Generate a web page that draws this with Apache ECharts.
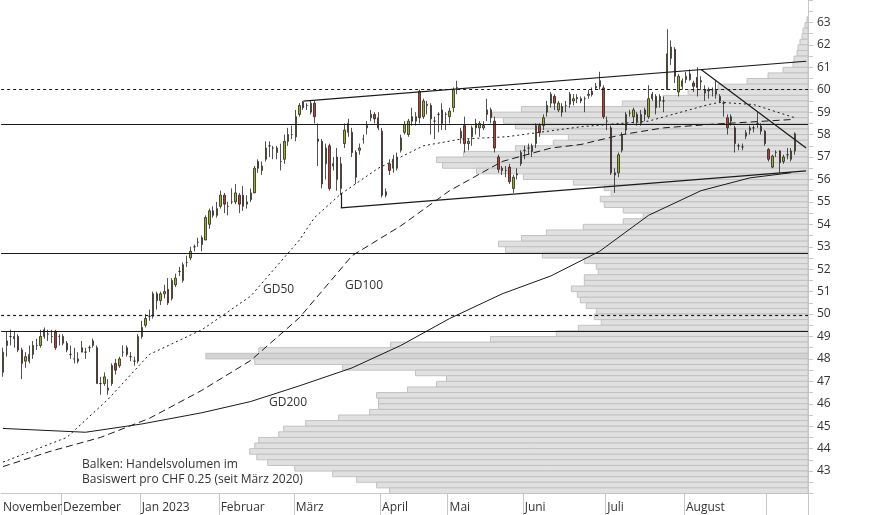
<!DOCTYPE html>
<html>
<head>
<meta charset="utf-8">
<script src="https://cdn.jsdelivr.net/npm/echarts@6/dist/echarts.min.js"></script>
<style>html,body{margin:0;padding:0;background:#fff}#main{width:874px;height:515px}</style>
</head>
<body>
<div id="main"></div>
<script>
// daily candles [open, close, low, high]
var candles = [
[47.4,48.3,47.2,48.5],[48.6,48.8,48.1,49.2],[49.0,49.0,48.6,49.3],[48.9,49.0,48.5,49.2],[49.0,48.4,48.3,49.1],
[48.4,47.8,47.1,48.5],[47.9,48.1,47.6,48.3],[47.9,48.2,47.8,48.6],[48.2,48.6,48.0,48.8],[48.6,48.6,48.4,48.9],
[48.6,49.0,48.5,49.3],[49.0,49.3,48.9,49.4],[49.1,49.1,48.8,49.3],[49.0,49.0,48.7,49.3],[49.2,48.5,48.4,49.3],
[49.0,49.0,48.6,49.1],[48.7,49.0,48.6,49.1],[48.7,48.4,48.3,48.8],[48.2,48.2,48.0,48.6],[48.0,48.0,47.8,48.5],
[47.9,48.0,47.8,48.3],[48.3,48.5,48.3,48.8],[48.3,48.3,48.0,48.5],[48.5,48.5,48.3,48.6],[48.6,48.8,48.5,48.9],
[48.5,46.9,46.9,48.6],[46.9,46.9,46.4,47.2],[46.9,47.2,46.8,47.4],[46.6,46.7,46.4,47.1],[46.9,47.7,46.8,47.8],
[47.8,47.5,47.3,48.0],[47.7,48.0,47.6,48.1],[48.3,48.3,48.1,48.6],[48.5,48.2,48.1,48.6],[48.1,48.1,47.9,48.3],
[47.9,47.9,47.7,48.1],[47.9,49.0,47.8,49.1],[49.0,49.4,48.9,49.7],[49.5,49.8,49.4,50.0],[49.9,49.9,49.7,50.2],
[49.9,50.9,49.8,51.0],[50.9,50.6,50.2,51.0],[50.6,50.9,50.4,51.0],[50.9,51.0,50.7,51.3],[51.1,50.5,50.4,51.6],
[50.7,51.5,50.6,51.6],[51.3,51.6,51.2,51.8],[51.9,51.9,51.7,52.1],[51.5,52.2,51.4,52.3],[52.3,52.3,52.1,52.6],
[52.5,52.8,52.4,53.0],[53.0,53.0,52.8,53.1],[53.2,53.2,53.0,53.4],[53.1,53.4,52.8,53.5],[53.3,54.3,53.3,54.4],
[54.0,54.6,53.8,54.7],[54.6,54.4,54.3,54.8],[54.4,54.7,54.3,55.0],[54.8,55.3,54.7,55.5],[55.3,54.9,54.5,55.4],
[54.8,54.8,54.4,55.0],[55.0,55.0,54.9,55.6],[55.0,55.4,54.9,55.8],[55.3,54.9,54.5,55.4],[55.3,54.8,54.6,55.7],
[54.9,55.0,54.7,55.3],[55.1,55.4,55.0,55.6],[55.4,56.5,55.4,56.6],[56.8,56.5,56.3,56.9],[56.4,56.6,56.2,56.8],
[56.9,57.4,56.8,57.7],[57.5,57.5,57.0,57.7],[57.4,57.4,56.9,57.5],[57.2,57.4,56.9,57.5],[56.8,56.8,56.4,57.6],
[56.9,57.7,56.7,58.0],[57.7,58.0,57.5,58.3],[58.0,58.0,57.8,58.4],[57.9,58.8,57.7,59.1],[58.9,59.3,58.8,59.4],
[59.45,59.2,59.1,59.5],[59.3,59.3,59.1,59.4],[59.0,59.4,58.9,59.5],[59.4,58.8,58.5,59.5],[57.8,57.7,56.6,58.5],
[57.7,55.8,55.6,57.8],[56.7,57.4,56.0,57.6],[57.5,55.6,55.5,57.6],[56.6,56.7,56.4,57.0],[57.0,56.0,55.5,57.4],
[55.6,56.7,55.3,57.0],[57.6,58.2,57.4,58.5],[58.1,58.5,57.9,58.7],[58.1,57.2,57.0,58.3],[57.2,56.1,55.8,57.3],
[57.3,57.4,57.1,57.6],[57.8,57.8,57.6,58.0],[58.3,58.4,58.0,58.6],[58.75,58.9,58.6,59.1],[58.9,58.7,58.5,59.0],
[58.75,58.3,58.2,59.0],[58.15,55.3,55.2,58.3],[55.3,55.45,55.2,55.6],[56.7,56.4,56.2,56.9],[56.5,56.9,56.3,57.1],
[56.5,57.0,56.4,57.2],[57.3,57.85,57.2,58.0],[58.1,58.45,58.0,58.6],[58.0,58.6,57.9,58.7],[58.8,58.6,58.4,59.2],
[58.6,58.8,58.4,59.0],[59.93,58.75,58.5,60.0],[58.8,59.5,58.7,59.6],[59.35,59.3,58.9,59.5],[59.3,58.7,58.0,59.4],
[58.6,58.6,57.8,58.8],[58.9,58.9,58.1,59.0],[59.1,58.5,58.2,59.4],[58.9,58.9,58.2,59.0],[58.8,59.05,58.5,59.2],
[59.2,60.0,59.0,60.1],[60.1,60.1,59.8,60.4],[57.85,58.15,57.6,58.3],[58.4,57.6,57.2,58.8],[57.6,57.7,57.3,57.8],
[57.9,58.3,57.5,58.4],[58.5,58.3,58.0,58.7],[58.3,58.5,57.9,58.6],[58.3,58.4,58.2,58.6],[58.9,59.1,58.6,59.6],
[59.1,58.75,58.5,59.2],[58.6,57.4,57.2,58.8],[57.0,56.45,56.3,57.1],[56.5,56.4,56.2,56.6],[56.4,56.4,56.1,56.6],
[56.55,55.9,55.8,56.7],[55.6,56.1,55.4,56.2],[56.2,56.25,56.0,56.5],[56.7,57.2,56.6,57.3],[57.3,57.3,56.9,57.5],
[57.4,57.4,57.1,57.6],[57.25,57.5,57.0,57.6],[57.6,58.4,57.4,58.5],[58.4,58.1,57.9,58.5],[58.4,58.75,58.2,58.9],
[59.0,59.3,58.8,59.5],[59.4,59.8,59.2,59.9],[59.7,59.4,59.1,59.8],[59.1,59.4,59.0,59.5],[59.25,59.0,58.8,59.4],
[59.3,59.3,59.0,59.5],[59.35,59.8,59.2,59.9],[59.5,59.6,59.3,59.8],[59.65,59.6,59.4,59.8],[59.6,59.5,59.4,59.7],
[59.6,59.6,59.0,59.7],[59.75,59.8,59.6,60.0],[59.93,59.78,59.7,60.1],[60.08,60.15,60.0,60.3],[60.4,60.15,60.0,60.8],
[60.08,58.8,58.7,60.2],[58.6,58.6,58.2,58.8],[58.3,56.3,56.2,58.4],[56.2,56.3,55.4,56.5],[56.3,57.1,56.1,57.2],
[57.3,58.0,57.2,58.1],[58.2,58.9,58.0,59.0],[58.95,58.95,58.8,59.1],[58.8,59.1,58.5,59.2],[58.9,58.6,58.4,59.0],
[58.5,58.9,58.4,59.1],[59.1,58.9,58.6,59.2],[58.8,59.6,58.7,60.2],[59.6,59.8,59.5,59.9],[59.7,59.2,58.9,59.8],
[59.5,59.7,59.2,59.8],[59.5,59.5,59.0,59.7],[60.0,61.6,60.0,62.7],[61.4,61.9,61.1,62.2],[61.8,60.6,60.3,61.9],
[59.9,60.6,59.7,60.7],[60.15,60.4,60.0,60.5],[60.45,60.6,60.3,60.8],[60.45,60.7,60.4,60.9],[60.3,60.15,59.9,60.4],
[60.55,60.1,59.7,61.0],[60.4,60.35,60.0,60.6],[60.0,59.85,59.5,60.2],[60.0,59.95,59.6,60.1],[60.0,60.0,59.7,60.1],
[59.8,59.96,59.6,60.4],[59.7,59.5,59.4,59.8],[59.4,59.4,58.8,59.5],[58.75,58.3,58.0,58.9],[58.6,58.8,58.4,58.9],
[58.3,57.6,57.2,58.4],[57.5,57.5,57.3,57.6],[57.45,57.45,57.3,57.6],[57.93,58.08,57.8,58.2],[58.2,58.3,58.0,58.4],
[58.3,58.3,58.1,58.4],[58.5,58.5,58.3,59.0],[58.38,58.15,58.0,58.5],[58.15,57.6,57.5,58.2],[57.34,56.9,56.8,57.4],
[56.55,57.04,56.5,57.1],[57.2,57.2,57.0,57.3],[57.27,56.75,56.3,57.3],[56.8,57.0,56.7,57.1],[57.1,57.1,56.9,57.4],
[56.9,57.27,56.8,57.4],[57.27,58.04,57.1,58.1]
];

// moving averages, sampled points [day index, value]
var gd50 = [[0,43.4],[17,44.5],[28,46.2],[39,48.2],[53,49.3],[66,50.8],[79,53.3],[83,54.3],[90,55.35],[100,56.5],
  [112,57.5],[122,57.8],[134,57.9],[143,58.1],[154,58.35],[172,58.6],[180,58.97],[188,59.34],[191,59.44],[200,59.34],[211,58.75]];
var gd100 = [[0,43.2],[13,43.9],[26,44.5],[39,45.35],[53,46.6],[66,47.93],[79,49.84],[93,52.6],[106,53.93],[119,55.5],
  [133,56.8],[146,57.4],[154,57.56],[165,58.0],[176,58.3],[188,58.45],[210,58.67]];
var gd200 = [[0,44.9],[22,44.73],[37,45.1],[53,45.6],[66,46.1],[79,46.8],[93,47.6],[106,48.6],[119,49.8],[133,50.9],
  [146,51.7],[159,52.8],[172,54.4],[186,55.5],[199,56.07],[210,56.3]];

// volume profile: price bin centre (step 0.25) and volume
var profilePrice = [63.125,62.875,62.625,62.375,62.125,61.875,61.625,61.375,61.125,60.875,60.625,60.375,60.125,59.875,
  59.625,59.375,59.125,58.875,58.625,58.375,58.125,57.875,57.625,57.375,57.125,56.875,56.625,56.375,56.125,55.875,
  55.625,55.375,55.125,54.875,54.625,54.375,54.125,53.875,53.625,53.375,53.125,52.875,52.625,52.375,52.125,51.875,
  51.625,51.375,51.125,50.875,50.625,50.375,50.125,49.875,49.625,49.375,49.125,48.875,48.625,48.375,48.125,47.875,
  47.625,47.375,47.125,46.875,46.625,46.375,46.125,45.875,45.625,45.375,45.125,44.875,44.625,44.375,44.125,43.875,
  43.625,43.375,43.125,42.875,42.625,42.375,42.125];
var profileVol = [1,3,5,6,8,10,11,14,15,25,40,61,90,120,145,186,287,316,305,293,268,240,255,293,345,372,366,332,285,235,
  204,197,208,204,185,165,185,225,262,287,310,303,266,224,212,210,224,224,237,231,228,222,212,214,207,230,252,318,418,
  550,603,554,466,393,362,372,401,432,430,430,439,470,503,525,530,550,554,559,552,541,514,476,452,432,419];
var currentBin = 48.125;

var levelsSolid = [58.45, 52.7, 49.22];
var levelsDashed = [60.0, 49.93];
var trendLines = [
  [[80,59.49],[214,61.27]],
  [[90,54.73],[214,56.38]],
  [[90,54.73],[90,55.4]],
  [[186,60.9],[214,57.4]]
];

var monthNames = {10:'November',11:'Dezember',0:'Jan 2023',1:'Februar',2:'März',3:'April',4:'Mai',5:'Juni',6:'Juli',7:'August',8:''};
var holidays = ['2022-12-26','2023-01-02','2023-04-07','2023-04-10','2023-05-01','2023-05-18','2023-05-29','2023-08-01'];
var dayCount = 215;

// trading days
var dates = [];
var d = new Date(Date.UTC(2022, 10, 9));
while (dates.length < dayCount) {
  var s = d.toISOString().slice(0, 10);
  var wd = d.getUTCDay();
  if (wd !== 0 && wd !== 6 && holidays.indexOf(s) < 0) dates.push(s);
  d.setUTCDate(d.getUTCDate() + 1);
}
var monthStart = {};
for (var i = 0; i < dates.length; i++) {
  if (i === 0 || dates[i].slice(5, 7) !== dates[i - 1].slice(5, 7)) monthStart[i] = true;
}

var font = '"Open Sans", "DejaVu Sans", sans-serif';
var chart = echarts.init(document.getElementById('main'));

var lineData = [];
levelsSolid.forEach(function (v) { lineData.push({yAxis: v, lineStyle: {type: 'solid', width: 1.2, color: '#1a1a1a'}}); });
levelsDashed.forEach(function (v) { lineData.push({yAxis: v, lineStyle: {type: [3, 3], width: 1.2, color: '#1a1a1a'}}); });
trendLines.forEach(function (t) {
  lineData.push([{coord: t[0], lineStyle: {type: 'solid', width: 1.2, color: '#1a1a1a'}}, {coord: t[1]}]);
});

function maSeries(data, dash) {
  return {
    type: 'line', data: data, symbol: 'none', silent: true, z: 3,
    lineStyle: {color: '#1a1a1a', width: 1, type: dash}
  };
}

var profileData = profilePrice.map(function (p, k) { return [p, profileVol[k]]; });

var option = {
  animation: false,
  grid: [{left: 0, right: 66, top: -1.5, bottom: 21.5}],
  xAxis: [{
    type: 'category', data: dates, boundaryGap: true,
    axisLine: {lineStyle: {color: '#c8c8c8'}},
    axisTick: {show: true, length: 22, lineStyle: {color: '#c8c8c8'},
      interval: function (idx) { return !!monthStart[idx] && idx > 0; }},
    axisLabel: {
      interval: function (idx) { return !!monthStart[idx]; },
      formatter: function (v) { return monthNames[parseInt(v.slice(5, 7), 10) - 1]; },
      align: 'left', margin: 8, color: '#333', fontSize: 12, fontFamily: font
    },
    splitLine: {show: false}
  }, {
    type: 'value', inverse: true, min: 0, max: 808, show: false
  }],
  yAxis: [{
    type: 'value', position: 'right', min: 42, max: 64, interval: 1,
    axisLine: {show: true, lineStyle: {color: '#c8c8c8'}},
    axisTick: {show: true, length: 5, lineStyle: {color: '#c8c8c8'}},
    minorTick: {show: true, splitNumber: 2, length: 5, lineStyle: {color: '#c8c8c8'}},
    axisLabel: {color: '#333', fontSize: 12, fontFamily: font, margin: 9, showMinLabel: false, showMaxLabel: false},
    splitLine: {show: false}
  }],
  series: [{
    type: 'custom', xAxisIndex: 1, yAxisIndex: 0, data: profileData, silent: true, z: 1,
    renderItem: function (params, api) {
      var p = api.value(0), v = api.value(1);
      var a = api.coord([v, p + 0.125]);
      var b = api.coord([0, p - 0.125]);
      return {
        type: 'rect',
        shape: {x: a[0], y: a[1], width: b[0] - a[0], height: b[1] - a[1]},
        style: {fill: p === currentBin ? '#d3d3d3' : '#e0e0e0', stroke: '#c2c2c2', lineWidth: 1}
      };
    }
  }, {
    type: 'candlestick', data: candles, barMaxWidth: 3.8, z: 4,
    itemStyle: {color: '#9cb01c', color0: '#c0392b', borderColor: '#262626', borderColor0: '#262626', borderWidth: 0.8},
    markLine: {symbol: 'none', silent: true, label: {show: false}, data: lineData}
  },
    maSeries(gd50, [2, 3]),
    maSeries(gd100, [7, 4]),
    maSeries(gd200, 'solid')
  ],
  graphic: [
    {type: 'text', left: 263, top: 284, style: {text: 'GD50', fill: '#333', font: '12px ' + font}},
    {type: 'text', left: 345, top: 280, style: {text: 'GD100', fill: '#333', font: '12px ' + font}},
    {type: 'text', left: 269, top: 397, style: {text: 'GD200', fill: '#333', font: '12px ' + font}},
    {type: 'text', left: 82, top: 459, style: {text: 'Balken: Handelsvolumen im', fill: '#333', font: '12px ' + font}},
    {type: 'text', left: 82, top: 474, style: {text: 'Basiswert pro CHF 0.25 (seit März 2020)', fill: '#333', font: '12px ' + font}}
  ]
};
chart.setOption(option);
</script>
</body>
</html>
